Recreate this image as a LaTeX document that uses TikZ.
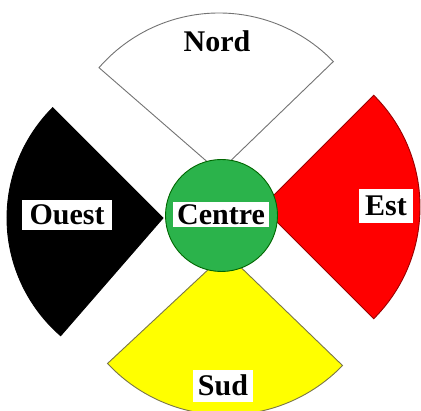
\documentclass[tikz,border=0pt]{standalone}
\usepackage{fontspec}
\setmainfont{Liberation Serif}
\definecolor{cgreen}{RGB}{43,179,75}
\definecolor{cred}{RGB}{255,0,0}
\definecolor{cyellow}{RGB}{255,255,0}
\tikzset{
  sector/.style={line width=0.9pt, line join=miter},
  lab/.style={fill=white, inner sep=0pt, font=\bfseries\fontsize{30}{30}\selectfont, text height=20pt, text depth=1pt}
}
\begin{document}
\begin{tikzpicture}[x=1pt,y=1pt]
\useasboundingbox (0,0) rectangle (421,411);
% Nord
\draw[sector, draw=black!55, fill=white] (219,239) -- ++(44:159) arc[start angle=44, end angle=139, radius=159] -- cycle;
% Est
\draw[sector, draw=red!60!black, fill=cred] (262,204) -- ++(-45:158) arc[start angle=-45, end angle=45, radius=158] -- cycle;
% Ouest
\draw[sector, draw=black, fill=black] (163,193) -- ++(135:156) arc[start angle=135, end angle=229, radius=156] -- cycle;
% Sud
\draw[sector, draw=black!60!yellow, fill=cyellow] (226,158) -- ++(223:162) arc[start angle=223, end angle=316, radius=162] -- cycle;
% Centre
\node[circle, draw=black!60!green, line width=0.9pt, fill=cgreen, minimum size=112pt, inner sep=0pt] (centre) at (221.5,195.5) {};
\node[lab, minimum width=96pt, minimum height=25pt] (lcentre) at (221,196) {Centre};
\node[lab, minimum width=90pt, minimum height=30pt] (louest) at (67,196) {Ouest};
\node[lab, minimum width=54pt, minimum height=34pt] (lest) at (386,205) {Est};
\node[lab, minimum width=60pt, minimum height=32pt] (lsud) at (223,25) {Sud};
\node[lab, fill=none, anchor=base] (lnord) at (217,359) {Nord};
\end{tikzpicture}
\end{document}
